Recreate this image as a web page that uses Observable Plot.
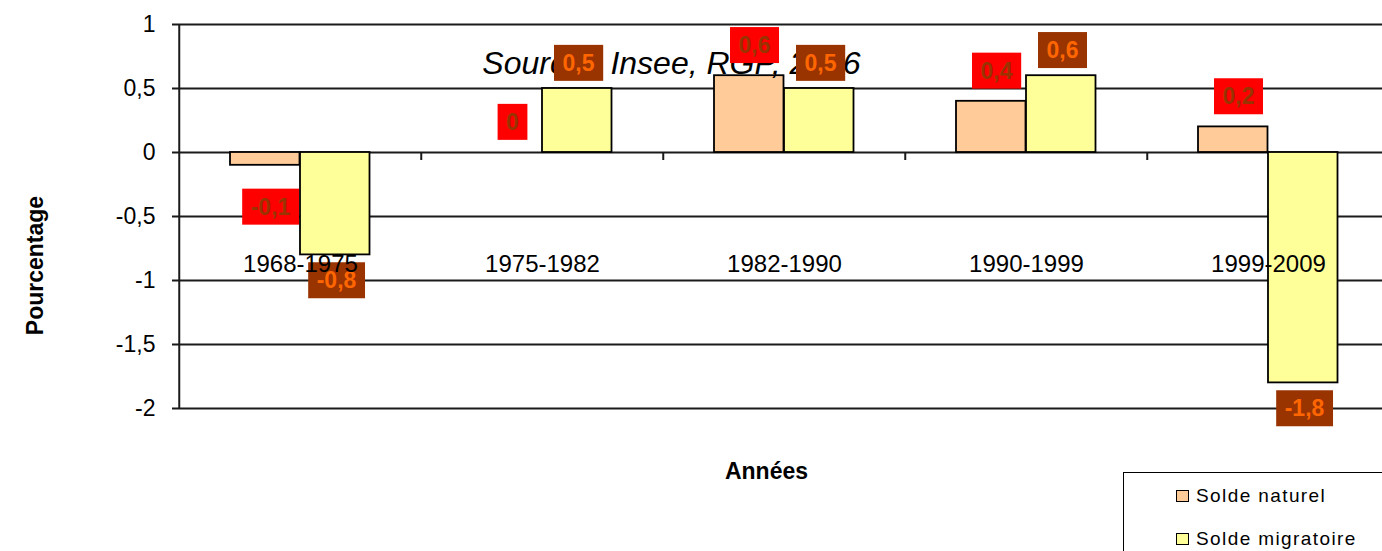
<!DOCTYPE html>
<html>
<head>
<meta charset="utf-8">
<script src="https://cdn.jsdelivr.net/npm/d3@7"></script>
<script src="https://cdn.jsdelivr.net/npm/@observablehq/plot@0.6"></script>
<style>
  html, body { margin: 0; padding: 0; background: #fff; }
  #wrap { position: relative; width: 1382px; height: 551px; overflow: hidden; font-family: Arial, "Liberation Sans", sans-serif; }
  #legend { position: absolute; left: 1123px; top: 472px; width: 300px; height: 120px; border: 1.5px solid #000; background: #fff; box-sizing: border-box; }
  .lg-row { position: absolute; left: 52px; display: flex; align-items: center; font-size: 19px; letter-spacing: 1.4px; color: #000; white-space: nowrap; }
  .lg-sw { width: 11px; height: 10px; border: 1.5px solid #000; margin-right: 7px; }
</style>
</head>
<body>
<div id="wrap"></div>
<script>
const categories = ["1968-1975", "1975-1982", "1982-1990", "1990-1999", "1999-2009"];
const soldeNaturel = [-0.1, 0, 0.6, 0.4, 0.2];
const soldeMigratoire = [-0.8, 0.5, 0.5, 0.6, -1.8];
const yTicks = [1, 0.5, 0, -0.5, -1, -1.5, -2];
const seriesNames = ["Solde naturel", "Solde migratoire"];
const seriesColors = ["#FFCC99", "#FFFF99"];
const sourceText = "Source : Insee, RGP, 2006";
const yLabel = "Pourcentage";
const xLabel = "Années";

const fmt = v => String(v).replace(".", ",");
const nat = categories.map((c, i) => ({cat: c, v: soldeNaturel[i]}));
const mig = categories.map((c, i) => ({cat: c, v: soldeMigratoire[i]}));
const half = 121.25;
const labelFont = {fontWeight: "bold", fontSize: 23};

const svg = Plot.plot({
  width: 1382,
  height: 551,
  marginLeft: 178,
  marginRight: 0,
  marginTop: 24,
  marginBottom: 143,
  style: {fontFamily: "Arial, 'Liberation Sans', sans-serif", fontSize: "23px", color: "#000", background: "#fff"},
  x: {type: "band", domain: categories, range: [178, 1390.5], padding: 0, axis: null},
  y: {domain: [-2, 1], ticks: yTicks, tickFormat: fmt, tickSize: 0, tickPadding: 23, label: null},
  marks: [
    Plot.ruleY(yTicks, {stroke: "#1a1a1a", strokeWidth: 2, insetLeft: -6}),
    Plot.ruleX([categories[0]], {x: d => d, dx: -half, stroke: "#1a1a1a", strokeWidth: 2}),
    Plot.ruleX(categories.slice(1), {x: d => d, dx: -half, y1: 0, y2: 0, insetBottom: -8, stroke: "#1a1a1a", strokeWidth: 2}),
    Plot.barY(nat, {x: "cat", y: "v", fill: seriesColors[0], stroke: "#000", strokeWidth: 1.8, insetLeft: 51, insetRight: 121.5}),
    Plot.barY(mig, {x: "cat", y: "v", fill: seriesColors[1], stroke: "#000", strokeWidth: 1.8, insetLeft: 121, insetRight: 51.5}),
    Plot.text([sourceText], {frameAnchor: "top", textAnchor: "middle", lineAnchor: "middle", dx: -109, dy: 39.5, fontStyle: "italic", fontSize: 32, fill: "#000"}),
    Plot.text(nat.filter(d => d.v >= 0), {x: "cat", y: "v", text: d => fmt(d.v), dx: -30, dy: -30, fill: "#993300", ...labelFont}),
    Plot.text(nat.filter(d => d.v < 0), {x: "cat", y: "v", text: d => fmt(d.v), dx: -30, dy: 42, fill: "#993300", ...labelFont}),
    Plot.text(mig.filter(d => d.v >= 0), {x: "cat", y: "v", text: d => fmt(d.v), dx: 36, dy: -25, fill: "#FF6600", ...labelFont}),
    Plot.text(mig.filter(d => d.v < 0), {x: "cat", y: "v", text: d => fmt(d.v), dx: 36, dy: 26, fill: "#FF6600", ...labelFont}),
    Plot.text(categories, {x: d => d, frameAnchor: "bottom", lineAnchor: "middle", dy: -144, fontSize: 24, fill: "#000"}),
    Plot.text([yLabel], {frameAnchor: "left", textAnchor: "middle", lineAnchor: "middle", rotate: -90, dx: -143, dy: 49, fontWeight: "bold", fontSize: 23, fill: "#000"}),
    Plot.text([xLabel], {frameAnchor: "bottom", textAnchor: "middle", lineAnchor: "middle", dx: -14, dy: 63, fontWeight: "bold", fontSize: 23, fill: "#000"})
  ]
});

const wrap = document.getElementById("wrap");
wrap.appendChild(svg);

// label background boxes
svg.querySelectorAll('g[aria-label="text"]').forEach(g => {
  const f = (g.getAttribute("fill") || "").toLowerCase();
  const bg = f === "#993300" ? "#ff0000" : f === "#ff6600" ? "#993300" : null;
  if (!bg) return;
  Array.from(g.querySelectorAll("text")).forEach(t => {
    const b = t.getBBox();
    const r = document.createElementNS("http://www.w3.org/2000/svg", "rect");
    r.setAttribute("x", b.x - 8.5);
    r.setAttribute("width", b.width + 17);
    r.setAttribute("y", b.y + b.height / 2 - 18);
    r.setAttribute("height", 36);
    r.setAttribute("fill", bg);
    if (t.getAttribute("transform")) r.setAttribute("transform", t.getAttribute("transform"));
    g.insertBefore(r, t);
  });
});

// legend
const legend = document.createElement("div");
legend.id = "legend";
seriesNames.forEach((name, i) => {
  const row = document.createElement("div");
  row.className = "lg-row";
  row.style.top = (i === 0 ? 12 : 55) + "px";
  const sw = document.createElement("div");
  sw.className = "lg-sw";
  sw.style.background = seriesColors[i];
  const tx = document.createElement("span");
  tx.textContent = name;
  row.appendChild(sw);
  row.appendChild(tx);
  legend.appendChild(row);
});
wrap.appendChild(legend);
</script>
</body>
</html>
